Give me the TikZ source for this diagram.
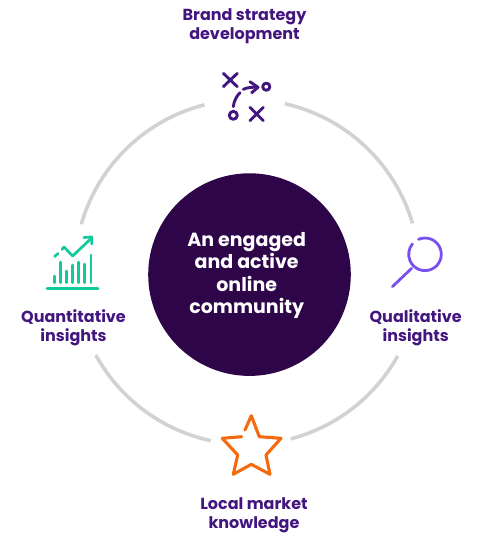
\documentclass[tikz,border=0pt]{standalone}
\usepackage{xcolor}
\usepackage{fontspec}
\setmainfont{Poppins}
\usetikzlibrary{arrows.meta,positioning}
\definecolor{corepurple}{HTML}{2E0549}
\definecolor{labelpurple}{HTML}{43167F}
\definecolor{ringgrey}{HTML}{D2D2D2}
\definecolor{chartteal}{HTML}{12C99B}
\definecolor{lensviolet}{HTML}{7A4FF0}
\definecolor{starorange}{HTML}{F46A0C}

\tikzset{
  ringarc/.style={draw=ringgrey,line width=3.6pt},
  labeltext/.style={font=\fontsize{16}{19}\selectfont\bfseries,text=labelpurple,align=center,inner sep=0pt},
  playline/.style={draw=labelpurple,line width=2.9pt,line cap=round,line join=round},
  chartline/.style={draw=chartteal,line width=2.7pt,line cap=round,line join=round},
  lensline/.style={draw=lensviolet,line width=2.8pt,line cap=round},
  starline/.style={draw=starorange,line width=3.1pt,line cap=round,line join=round}
}

\begin{document}
\begin{tikzpicture}[x=1pt,y=-1pt]
  \useasboundingbox (0,0) rectangle (480,542);

  % core
  \node[circle,fill=corepurple,minimum size=202.6pt,inner sep=0pt] (core) at (249.5,274.6) {};
  \node[font=\fontsize{19}{22.4}\selectfont\bfseries,text=white,align=center,inner sep=0pt] (coretext) at (246.7,275.5)
    {An engaged\\and active\\online\\community};

  % ring
  \coordinate (ringc) at (247,272);
  \foreach \a/\b in {196.1/255.7,282.7/343.6,29.1/75.3,102.1/151.2}
    \draw[ringarc] (ringc) ++(\a:172.5) arc[start angle=\a,end angle=\b,radius=172.5];

  % labels
  \node[labeltext] (labbrand) at (244.5,26.5) {Brand strategy\\development};
  \node[labeltext] (labquant) at (73.5,328) {Quantitative\\insights};
  \node[labeltext] (labqual) at (415.7,328) {Qualitative\\insights};
  \node[labeltext] (lablocal) at (254,515) {Local market\\knowledge};

  % play icon
  \draw[playline] (223.3,73.3) -- (237.3,86.7) (237.3,73.3) -- (223.3,86.7);
  \draw[playline] (250,107.3) -- (263.3,120.7) (263.3,107.3) -- (250,120.7);
  \draw[playline] (266.3,86.7) circle[radius=3.6];
  \draw[playline] (233.3,115.3) circle[radius=4];
  \draw[playline] (243.3,89.3) .. controls (247,87.5) and (252,87) .. (258,87.3);
  \draw[playline] (250,81.7) -- (258,87.3) -- (251.7,92.7);
  \draw[playline] (240,92.7) .. controls (236.5,96) and (234,101) .. (233.3,106.7);

  % chart icon
  \draw[chartline] (47,288.3) -- (98,288.3);
  \foreach \x/\t in {54.3/276,60.7/262,66.7/271,72.7/265,78.7/262,84.7/264,91/255}
    \draw[chartline] (\x,282.7) -- (\x,\t);
  \draw[chartline] (54.5,256.5) -- (58,253.5);
  \draw[chartline] (62,249.5) -- (64,247) -- (72.7,256) -- (91,238.5);
  \draw[chartline] (84,237.5) -- (91.7,237) -- (91.7,244);

  % lens icon
  \draw[lensline] (425,254.3) ++(246.5:16.3) arc[start angle=246.5,end angle=579.5,radius=16.3];
  \draw[lensline] (411.7,268.3) -- (392.3,286.7);

  % star icon
  \draw[starline] (245,430) -- (251.3,415.7) -- (259.3,436.7) -- (281,438.3) -- (266,455)
    -- (270,474.3) -- (251.3,464.3) -- (233.3,474.3) -- (237.7,455) -- (222.3,438.3) -- (241.7,436.7);
\end{tikzpicture}
\end{document}
